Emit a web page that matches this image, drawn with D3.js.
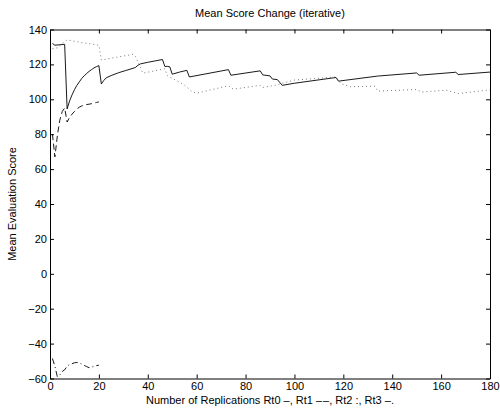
<!DOCTYPE html>
<html lang="en">
<head>
    <meta charset="UTF-8">
    <title>Mean Score Change</title>
    <script src="https://d3js.org/d3.v7.min.js"></script>
    <style>
        body { margin: 0; background: #fff; }
        text { font-family: "Liberation Sans", Arial, Helvetica, sans-serif; fill: #000; }
    </style>
</head>
<body>

<svg width="500" height="409"></svg>

<script>

    // data (replication number, mean score)
    var rt0X = [1, 2, 6, 7, 8, 9, 10, 11, 12, 13, 14, 15, 16, 17, 18, 19, 20, 21, 22, 23, 25, 28, 31, 34, 35, 36, 37, 40, 43, 46, 47, 48, 49, 50, 53, 56, 57, 73, 74, 86, 87, 90, 91, 93, 95, 100, 117, 118, 134, 150, 151, 166, 167, 180];
    var rt0Y = [132, 131, 131.5, 94.5, 99, 102.5, 105.5, 108, 110, 112, 113.5, 114.8, 116, 117, 118, 118.7, 119.3, 108.8, 110.8, 112.3, 113.6, 115.2, 116.5, 117.8, 118.3, 119.5, 120.3, 121.2, 122, 122.8, 118.8, 118.9, 118.6, 114.4, 115.6, 116.6, 112.8, 117, 113.8, 116.3, 114, 113.4, 111.6, 111.3, 108, 109.2, 112.5, 110.4, 113.3, 115.1, 113.8, 115.5, 114.2, 115.6];

    var rt1X = [1, 2, 3, 4, 5, 6, 7, 8, 9, 10, 11, 12, 13, 14, 15, 16, 17, 18, 19, 20];
    var rt1Y = [80, 67, 79, 88, 93, 95, 87, 89.5, 91.5, 93, 94.5, 95.5, 96.2, 96.8, 97, 97.2, 97.5, 97.8, 98.2, 98.5];

    var rt2X = [1, 3, 5, 7, 13, 20, 21, 34, 35, 38, 47, 48, 52, 55, 58, 60, 73, 75, 86, 87, 92, 95, 100, 117, 119, 123, 133, 134, 150, 152, 162, 167, 180];
    var rt2Y = [129, 129.5, 132, 134, 132.5, 131, 122.5, 125.8, 124.5, 115, 117.5, 113.5, 110.5, 108.2, 104.5, 103.5, 107.8, 105.8, 108, 106.8, 108, 109.2, 111, 112.8, 109, 107.2, 107.5, 104.7, 105.6, 104.2, 105.2, 103.3, 105.4];

    var rt3X = [1, 2, 3, 4, 5, 6, 7, 8, 9, 10, 11, 12, 13, 14, 15, 16, 17, 18, 19, 20];
    var rt3Y = [-48.5, -53, -59, -58, -56, -55, -53, -52, -51.5, -51, -50.8, -51, -51.8, -52.5, -53.2, -53.8, -53.5, -53, -52.6, -52.4];

    var xTicks = [0, 20, 40, 60, 80, 100, 120, 140, 160, 180];
    var yTicks = [-60, -40, -20, 0, 20, 40, 60, 80, 100, 120, 140];

    var svg = d3.select('svg');
    var padL = 50, padR = 490, padT = 29.5, padB = 378.5;

    var x = d3.scaleLinear().domain([0, 180]).range([padL, padR]);
    var y = d3.scaleLinear().domain([-60, 140]).range([padB, padT]);

    // series with MATLAB line styles
    var series = [
        {xs: rt0X, ys: rt0Y, dash: null, color: '#000', w: 0.9},
        {xs: rt1X, ys: rt1Y, dash: '6,3.5', color: '#000', w: 0.9},
        {xs: rt2X, ys: rt2Y, dash: '1,3', color: '#555', w: 0.8},
        {xs: rt3X, ys: rt3Y, dash: '6,3,1,3', color: '#000', w: 0.9}
    ];

    var line = d3.line()
        .x(function (d) { return x(d[0]); })
        .y(function (d) { return y(d[1]); });

    var plot = svg.append('g');
    series.forEach(function (s) {
        plot.append('path')
            .datum(d3.zip(s.xs, s.ys))
            .attr('d', line)
            .attr('fill', 'none')
            .attr('stroke', s.color)
            .attr('stroke-width', s.w)
            .attr('stroke-dasharray', s.dash);
    });

    // axes, ticks inside on all four sides
    var tk = 4;
    svg.append('g').attr('transform', 'translate(0,' + padB + ')')
        .call(d3.axisBottom(x).tickValues(xTicks).tickSizeInner(-tk).tickSizeOuter(0).tickPadding(4));
    svg.append('g').attr('transform', 'translate(0,' + padT + ')')
        .call(d3.axisTop(x).tickValues(xTicks).tickSizeInner(-tk).tickSizeOuter(0).tickFormat(''));
    svg.append('g').attr('transform', 'translate(' + padL + ',0)')
        .call(d3.axisLeft(y).tickValues(yTicks).tickSizeInner(-tk).tickSizeOuter(0).tickPadding(3)
            .tickFormat(function (d) { return d < 0 ? '\u2212' + Math.abs(d) : d; }));
    svg.append('g').attr('transform', 'translate(' + padR + ',0)')
        .call(d3.axisRight(y).tickValues(yTicks).tickSizeInner(-tk).tickSizeOuter(0).tickFormat(''));

    svg.selectAll('.domain').attr('stroke', '#000').attr('stroke-width', 1);
    svg.selectAll('.tick line').attr('stroke', '#000');
    svg.selectAll('.tick text').style('font-size', '11px');

    // texts
    svg.append('text')
        .attr('x', 270).attr('y', 17)
        .attr('text-anchor', 'middle')
        .style('font-size', '11px')
        .text('Mean Score Change (iterative)');

    svg.append('text')
        .attr('x', 270).attr('y', 404)
        .attr('text-anchor', 'middle')
        .style('font-size', '11px')
        .text('Number of Replications Rt0 \u2013, Rt1 \u2013\u200a\u2013, Rt2 :, Rt3 \u2013.');

    svg.append('text')
        .attr('transform', 'translate(16,' + (padT + padB) / 2 + ') rotate(-90)')
        .attr('text-anchor', 'middle')
        .style('font-size', '11px')
        .text('Mean Evaluation Score');

</script>
</body>
</html>
